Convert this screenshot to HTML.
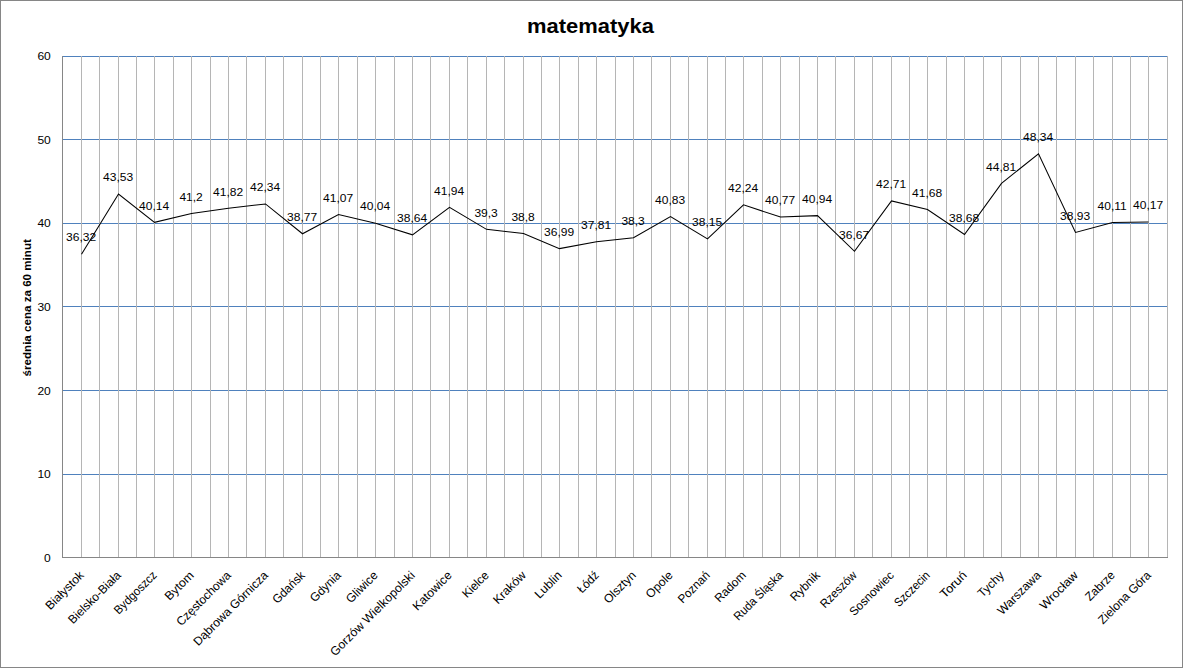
<!DOCTYPE html><html><head><meta charset="utf-8"><style>html,body{margin:0;padding:0;background:#fff}#c{position:relative;width:1183px;height:668px;overflow:hidden}svg{position:absolute;left:0;top:0}text{font-family:"Liberation Sans",sans-serif;fill:#000}</style></head><body><div id="c"><svg width="1183" height="668" viewBox="0 0 1183 668">
<rect x="0.5" y="0.5" width="1182" height="667" fill="#fff" stroke="#868686" stroke-width="1"/>
<path d="M62 56.5H1168M62 139.5H1168M62 223.5H1168M62 306.5H1168M62 390.5H1168M62 474.5H1168" stroke="#4f81bd" stroke-width="1" fill="none"/>
<path d="M81.5 56V557M99.5 56V557M118.5 56V557M136.5 56V557M154.5 56V557M173.5 56V557M191.5 56V557M210.5 56V557M228.5 56V557M246.5 56V557M265.5 56V557M283.5 56V557M302.5 56V557M320.5 56V557M338.5 56V557M357.5 56V557M375.5 56V557M394.5 56V557M412.5 56V557M430.5 56V557M449.5 56V557M467.5 56V557M486.5 56V557M504.5 56V557M523.5 56V557M541.5 56V557M559.5 56V557M578.5 56V557M596.5 56V557M615.5 56V557M633.5 56V557M651.5 56V557M670.5 56V557M688.5 56V557M707.5 56V557M725.5 56V557M743.5 56V557M762.5 56V557M780.5 56V557M799.5 56V557M817.5 56V557M835.5 56V557M854.5 56V557M872.5 56V557M891.5 56V557M909.5 56V557M927.5 56V557M946.5 56V557M964.5 56V557M983.5 56V557M1001.5 56V557M1020.5 56V557M1038.5 56V557M1056.5 56V557M1075.5 56V557M1093.5 56V557M1112.5 56V557M1130.5 56V557M1148.5 56V557M1167.5 56V557" stroke="#b5b5b5" stroke-width="1" fill="none"/>
<path d="M62.5 56V558M62 557.5H1168" stroke="#868686" stroke-width="1" fill="none"/>
<text transform="translate(50.8,561.8) scale(1.075,1)" font-size="11.2" text-anchor="end">0</text>
<text transform="translate(50.8,477.8) scale(1.075,1)" font-size="11.2" text-anchor="end">10</text>
<text transform="translate(50.8,394.8) scale(1.075,1)" font-size="11.2" text-anchor="end">20</text>
<text transform="translate(50.8,310.8) scale(1.075,1)" font-size="11.2" text-anchor="end">30</text>
<text transform="translate(50.8,226.8) scale(1.075,1)" font-size="11.2" text-anchor="end">40</text>
<text transform="translate(50.8,143.8) scale(1.075,1)" font-size="11.2" text-anchor="end">50</text>
<text transform="translate(50.8,59.8) scale(1.075,1)" font-size="11.2" text-anchor="end">60</text>
<polyline points="81.50,254.23 118.50,194.02 154.50,222.33 191.50,213.48 228.50,208.30 265.50,203.96 302.50,233.77 338.50,214.57 375.50,223.17 412.50,234.86 449.50,207.30 486.50,229.35 523.50,233.52 559.50,248.63 596.50,241.79 633.50,237.69 670.50,216.57 707.50,238.95 743.50,204.80 780.50,217.07 817.50,215.65 854.50,251.31 891.50,200.87 927.50,209.47 964.50,234.52 1001.50,183.34 1038.50,153.86 1075.50,232.43 1112.50,222.58 1148.50,222.08" fill="none" stroke="#000" stroke-width="1.05"/>
<text transform="translate(81.10,241.43) scale(1.075,1)" font-size="11.2" text-anchor="middle">36,32</text>
<text transform="translate(118.10,181.22) scale(1.075,1)" font-size="11.2" text-anchor="middle">43,53</text>
<text transform="translate(154.10,209.53) scale(1.075,1)" font-size="11.2" text-anchor="middle">40,14</text>
<text transform="translate(191.10,200.68) scale(1.075,1)" font-size="11.2" text-anchor="middle">41,2</text>
<text transform="translate(228.10,195.50) scale(1.075,1)" font-size="11.2" text-anchor="middle">41,82</text>
<text transform="translate(265.10,191.16) scale(1.075,1)" font-size="11.2" text-anchor="middle">42,34</text>
<text transform="translate(302.10,220.97) scale(1.075,1)" font-size="11.2" text-anchor="middle">38,77</text>
<text transform="translate(338.10,201.77) scale(1.075,1)" font-size="11.2" text-anchor="middle">41,07</text>
<text transform="translate(375.10,210.37) scale(1.075,1)" font-size="11.2" text-anchor="middle">40,04</text>
<text transform="translate(412.10,222.06) scale(1.075,1)" font-size="11.2" text-anchor="middle">38,64</text>
<text transform="translate(449.10,194.50) scale(1.075,1)" font-size="11.2" text-anchor="middle">41,94</text>
<text transform="translate(486.10,216.55) scale(1.075,1)" font-size="11.2" text-anchor="middle">39,3</text>
<text transform="translate(523.10,220.72) scale(1.075,1)" font-size="11.2" text-anchor="middle">38,8</text>
<text transform="translate(559.10,235.83) scale(1.075,1)" font-size="11.2" text-anchor="middle">36,99</text>
<text transform="translate(596.10,228.99) scale(1.075,1)" font-size="11.2" text-anchor="middle">37,81</text>
<text transform="translate(633.10,224.89) scale(1.075,1)" font-size="11.2" text-anchor="middle">38,3</text>
<text transform="translate(670.10,203.77) scale(1.075,1)" font-size="11.2" text-anchor="middle">40,83</text>
<text transform="translate(707.10,226.15) scale(1.075,1)" font-size="11.2" text-anchor="middle">38,15</text>
<text transform="translate(743.10,192.00) scale(1.075,1)" font-size="11.2" text-anchor="middle">42,24</text>
<text transform="translate(780.10,204.27) scale(1.075,1)" font-size="11.2" text-anchor="middle">40,77</text>
<text transform="translate(817.10,202.85) scale(1.075,1)" font-size="11.2" text-anchor="middle">40,94</text>
<text transform="translate(854.10,238.51) scale(1.075,1)" font-size="11.2" text-anchor="middle">36,67</text>
<text transform="translate(891.10,188.07) scale(1.075,1)" font-size="11.2" text-anchor="middle">42,71</text>
<text transform="translate(927.10,196.67) scale(1.075,1)" font-size="11.2" text-anchor="middle">41,68</text>
<text transform="translate(964.10,221.72) scale(1.075,1)" font-size="11.2" text-anchor="middle">38,68</text>
<text transform="translate(1001.10,170.54) scale(1.075,1)" font-size="11.2" text-anchor="middle">44,81</text>
<text transform="translate(1038.10,141.06) scale(1.075,1)" font-size="11.2" text-anchor="middle">48,34</text>
<text transform="translate(1075.10,219.63) scale(1.075,1)" font-size="11.2" text-anchor="middle">38,93</text>
<text transform="translate(1112.10,209.78) scale(1.075,1)" font-size="11.2" text-anchor="middle">40,11</text>
<text transform="translate(1148.10,209.28) scale(1.075,1)" font-size="11.2" text-anchor="middle">40,17</text>
<text transform="translate(81.80,573.2) rotate(-45)" font-size="12.1" text-anchor="end" dy="4" textLength="48.66" lengthAdjust="spacingAndGlyphs">Białystok</text>
<text transform="translate(118.80,573.2) rotate(-45)" font-size="12.1" text-anchor="end" dy="4" textLength="68.64" lengthAdjust="spacingAndGlyphs">Bielsko-Biała</text>
<text transform="translate(154.80,573.2) rotate(-45)" font-size="12.1" text-anchor="end" dy="4" textLength="54.99" lengthAdjust="spacingAndGlyphs">Bydgoszcz</text>
<text transform="translate(191.80,573.2) rotate(-45)" font-size="12.1" text-anchor="end" dy="4" textLength="35.44" lengthAdjust="spacingAndGlyphs">Bytom</text>
<text transform="translate(228.80,573.2) rotate(-45)" font-size="12.1" text-anchor="end" dy="4" textLength="71.31" lengthAdjust="spacingAndGlyphs">Częstochowa</text>
<text transform="translate(265.80,573.2) rotate(-45)" font-size="12.1" text-anchor="end" dy="4" textLength="99.65" lengthAdjust="spacingAndGlyphs">Dąbrowa Górnicza</text>
<text transform="translate(302.80,573.2) rotate(-45)" font-size="12.1" text-anchor="end" dy="4" textLength="40.08" lengthAdjust="spacingAndGlyphs">Gdańsk</text>
<text transform="translate(338.80,573.2) rotate(-45)" font-size="12.1" text-anchor="end" dy="4" textLength="37.90" lengthAdjust="spacingAndGlyphs">Gdynia</text>
<text transform="translate(375.80,573.2) rotate(-45)" font-size="12.1" text-anchor="end" dy="4" textLength="39.39" lengthAdjust="spacingAndGlyphs">Gliwice</text>
<text transform="translate(412.80,573.2) rotate(-45)" font-size="12.1" text-anchor="end" dy="4" textLength="114.07" lengthAdjust="spacingAndGlyphs">Gorzów Wielkopolski</text>
<text transform="translate(449.80,573.2) rotate(-45)" font-size="12.1" text-anchor="end" dy="4" textLength="49.67" lengthAdjust="spacingAndGlyphs">Katowice</text>
<text transform="translate(486.80,573.2) rotate(-45)" font-size="12.1" text-anchor="end" dy="4" textLength="31.95" lengthAdjust="spacingAndGlyphs">Kielce</text>
<text transform="translate(523.80,573.2) rotate(-45)" font-size="12.1" text-anchor="end" dy="4" textLength="40.58" lengthAdjust="spacingAndGlyphs">Kraków</text>
<text transform="translate(559.80,573.2) rotate(-45)" font-size="12.1" text-anchor="end" dy="4" textLength="32.74" lengthAdjust="spacingAndGlyphs">Lublin</text>
<text transform="translate(596.80,573.2) rotate(-45)" font-size="12.1" text-anchor="end" dy="4" textLength="25.05" lengthAdjust="spacingAndGlyphs">Łódź</text>
<text transform="translate(633.80,573.2) rotate(-45)" font-size="12.1" text-anchor="end" dy="4" textLength="39.88" lengthAdjust="spacingAndGlyphs">Olsztyn</text>
<text transform="translate(670.80,573.2) rotate(-45)" font-size="12.1" text-anchor="end" dy="4" textLength="32.56" lengthAdjust="spacingAndGlyphs">Opole</text>
<text transform="translate(707.80,573.2) rotate(-45)" font-size="12.1" text-anchor="end" dy="4" textLength="39.58" lengthAdjust="spacingAndGlyphs">Poznań</text>
<text transform="translate(743.80,573.2) rotate(-45)" font-size="12.1" text-anchor="end" dy="4" textLength="38.31" lengthAdjust="spacingAndGlyphs">Radom</text>
<text transform="translate(780.80,573.2) rotate(-45)" font-size="12.1" text-anchor="end" dy="4" textLength="63.89" lengthAdjust="spacingAndGlyphs">Ruda Śląska</text>
<text transform="translate(817.80,573.2) rotate(-45)" font-size="12.1" text-anchor="end" dy="4" textLength="36.41" lengthAdjust="spacingAndGlyphs">Rybnik</text>
<text transform="translate(854.80,573.2) rotate(-45)" font-size="12.1" text-anchor="end" dy="4" textLength="46.18" lengthAdjust="spacingAndGlyphs">Rzeszów</text>
<text transform="translate(891.80,573.2) rotate(-45)" font-size="12.1" text-anchor="end" dy="4" textLength="57.27" lengthAdjust="spacingAndGlyphs">Sosnowiec</text>
<text transform="translate(927.80,573.2) rotate(-45)" font-size="12.1" text-anchor="end" dy="4" textLength="44.63" lengthAdjust="spacingAndGlyphs">Szczecin</text>
<text transform="translate(964.80,573.2) rotate(-45)" font-size="12.1" text-anchor="end" dy="4" textLength="32.19" lengthAdjust="spacingAndGlyphs">Toruń</text>
<text transform="translate(1001.80,573.2) rotate(-45)" font-size="12.1" text-anchor="end" dy="4" textLength="31.21" lengthAdjust="spacingAndGlyphs">Tychy</text>
<text transform="translate(1038.80,573.2) rotate(-45)" font-size="12.1" text-anchor="end" dy="4" textLength="55.68" lengthAdjust="spacingAndGlyphs">Warszawa</text>
<text transform="translate(1075.80,573.2) rotate(-45)" font-size="12.1" text-anchor="end" dy="4" textLength="48.25" lengthAdjust="spacingAndGlyphs">Wrocław</text>
<text transform="translate(1112.80,573.2) rotate(-45)" font-size="12.1" text-anchor="end" dy="4" textLength="36.18" lengthAdjust="spacingAndGlyphs">Zabrze</text>
<text transform="translate(1148.80,573.2) rotate(-45)" font-size="12.1" text-anchor="end" dy="4" textLength="68.91" lengthAdjust="spacingAndGlyphs">Zielona Góra</text>
<text transform="translate(590.5,32.8) scale(1.045,1)" font-size="21" font-weight="bold" text-anchor="middle">matematyka</text>
<text transform="translate(30.5,307.8) rotate(-90)" font-size="11.6" font-weight="bold" text-anchor="middle">średnia cena za 60 minut</text>
</svg></div></body></html>
